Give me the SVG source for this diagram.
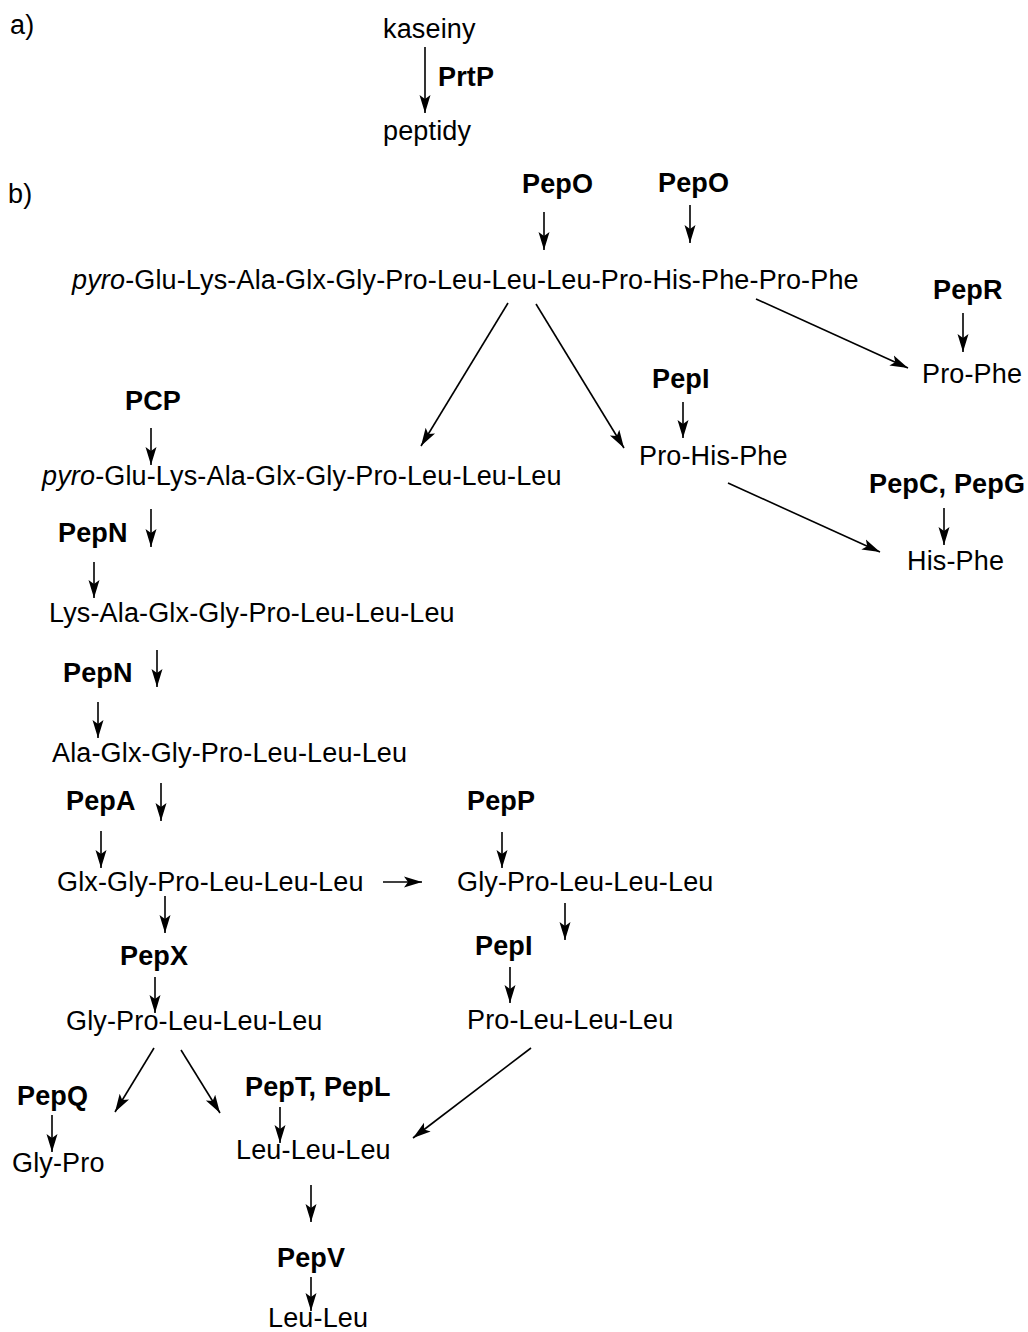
<svg xmlns="http://www.w3.org/2000/svg" width="1028" height="1332" viewBox="0 0 1028 1332">
  <style>
    text { font-family: "Liberation Sans", Arial, sans-serif; font-size: 27px; letter-spacing: 0.15px; fill: #000; }
    .enz { font-weight: bold; }
    .it { font-style: italic; }
    .conn line { stroke: #000; stroke-width: 1.6; fill: none; marker-end: url(#ah); }
  </style>
  <defs>
    <marker id="ah" markerUnits="userSpaceOnUse" markerWidth="20" markerHeight="14" viewBox="-18 -7 20 14" refX="0" refY="0" orient="auto">
      <path d="M0,0 L-18,-5.5 L-14,0 L-18,5.5 Z" fill="#000"/>
    </marker>
  </defs>
  <rect width="1028" height="1332" fill="#fff"/>

  <!-- part a: casein hydrolysis -->
  <g id="label-a"><text x="10" y="34">a)</text></g>
  <g id="kaseiny"><text x="383" y="38">kaseiny</text></g>
  <g id="prtp"><text class="enz" x="438" y="86">PrtP</text></g>
  <g id="peptidy"><text x="383" y="140">peptidy</text></g>

  <!-- part b: peptide degradation -->
  <g id="label-b"><text x="8" y="203">b)</text></g>
  <g id="pepo-1"><text class="enz" x="522" y="193">PepO</text></g>
  <g id="pepo-2"><text class="enz" x="658" y="192">PepO</text></g>
  <g id="peptide-full"><text x="72" y="289"><tspan class="it">pyro</tspan>-Glu-Lys-Ala-Glx-Gly-Pro-Leu-Leu-Leu-Pro-His-Phe-Pro-Phe</text></g>
  <g id="pepr"><text class="enz" x="933" y="299">PepR</text></g>
  <g id="pro-phe"><text x="922" y="383">Pro-Phe</text></g>
  <g id="pepi-1"><text class="enz" x="652" y="388">PepI</text></g>
  <g id="pro-his-phe"><text x="639" y="465">Pro-His-Phe</text></g>
  <g id="pepc-pepg"><text class="enz" x="869" y="493">PepC, PepG</text></g>
  <g id="his-phe"><text x="907" y="570">His-Phe</text></g>
  <g id="pcp"><text class="enz" x="125" y="410">PCP</text></g>
  <g id="pyro-nonapeptide"><text x="42" y="485"><tspan class="it">pyro</tspan>-Glu-Lys-Ala-Glx-Gly-Pro-Leu-Leu-Leu</text></g>
  <g id="pepn-1"><text class="enz" x="58" y="542">PepN</text></g>
  <g id="lys-octapeptide"><text x="49" y="622">Lys-Ala-Glx-Gly-Pro-Leu-Leu-Leu</text></g>
  <g id="pepn-2"><text class="enz" x="63" y="682">PepN</text></g>
  <g id="ala-heptapeptide"><text x="52" y="762">Ala-Glx-Gly-Pro-Leu-Leu-Leu</text></g>
  <g id="pepa"><text class="enz" x="66" y="810">PepA</text></g>
  <g id="glx-hexapeptide"><text x="57" y="891">Glx-Gly-Pro-Leu-Leu-Leu</text></g>
  <g id="pepp"><text class="enz" x="467" y="810">PepP</text></g>
  <g id="gly-pentapeptide-r"><text x="457" y="891">Gly-Pro-Leu-Leu-Leu</text></g>
  <g id="pepi-2"><text class="enz" x="475" y="955">PepI</text></g>
  <g id="pro-leu-leu-leu"><text x="467" y="1029">Pro-Leu-Leu-Leu</text></g>
  <g id="pepx"><text class="enz" x="120" y="965">PepX</text></g>
  <g id="gly-pentapeptide-l"><text x="66" y="1030">Gly-Pro-Leu-Leu-Leu</text></g>
  <g id="pepq"><text class="enz" x="17" y="1105">PepQ</text></g>
  <g id="gly-pro"><text x="12" y="1172">Gly-Pro</text></g>
  <g id="pept-pepl"><text class="enz" x="245" y="1096">PepT, PepL</text></g>
  <g id="leu-leu-leu"><text x="236" y="1159">Leu-Leu-Leu</text></g>
  <g id="pepv"><text class="enz" x="277" y="1267">PepV</text></g>
  <g id="leu-leu"><text x="268" y="1327">Leu-Leu</text></g>

  <g id="connectors" class="conn">
    <line x1="425" y1="47" x2="425" y2="113"/>
    <line x1="544" y1="212" x2="544" y2="250"/>
    <line x1="690" y1="205" x2="690" y2="243"/>
    <line x1="508" y1="303" x2="421" y2="446"/>
    <line x1="536" y1="304" x2="624" y2="448"/>
    <line x1="756" y1="299" x2="908" y2="368"/>
    <line x1="963" y1="313" x2="963" y2="352"/>
    <line x1="683" y1="402" x2="683" y2="438"/>
    <line x1="728" y1="483" x2="880" y2="552"/>
    <line x1="944" y1="508" x2="944" y2="545"/>
    <line x1="151" y1="428" x2="151" y2="465"/>
    <line x1="151" y1="509" x2="151" y2="547"/>
    <line x1="94" y1="562" x2="94" y2="598"/>
    <line x1="157" y1="650" x2="157" y2="687"/>
    <line x1="98" y1="702" x2="98" y2="738"/>
    <line x1="161" y1="783" x2="161" y2="821"/>
    <line x1="101" y1="831" x2="101" y2="868"/>
    <line x1="383" y1="882" x2="422" y2="882"/>
    <line x1="502" y1="832" x2="502" y2="868"/>
    <line x1="565" y1="903" x2="565" y2="940"/>
    <line x1="510" y1="967" x2="510" y2="1003"/>
    <line x1="165" y1="896" x2="165" y2="933"/>
    <line x1="155" y1="977" x2="155" y2="1013"/>
    <line x1="154" y1="1048" x2="115" y2="1112"/>
    <line x1="181" y1="1050" x2="220" y2="1113"/>
    <line x1="531" y1="1048" x2="413" y2="1138"/>
    <line x1="52" y1="1115" x2="52" y2="1152"/>
    <line x1="280" y1="1107" x2="280" y2="1143"/>
    <line x1="311" y1="1185" x2="311" y2="1222"/>
    <line x1="311" y1="1277" x2="311" y2="1311"/>
  </g>
</svg>
